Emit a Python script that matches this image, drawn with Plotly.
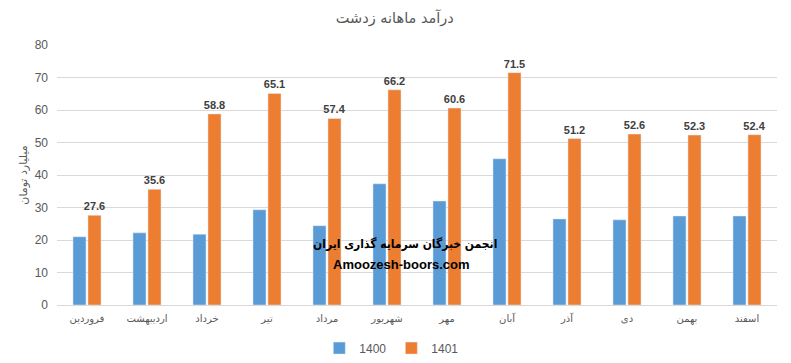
import plotly.graph_objects as go

months = ["فروردین", "اردیبهشت", "خرداد", "تیر", "مرداد", "شهریور",
          "مهر", "آبان", "آذر", "دی", "بهمن", "اسفند"]
v1400 = [21.0, 22.2, 21.8, 29.3, 24.4, 37.3, 32.0, 45.0, 26.5, 26.2, 27.4, 27.4]
v1401 = [27.6, 35.6, 58.8, 65.1, 57.4, 66.2, 60.6, 71.5, 51.2, 52.6, 52.3, 52.4]
yticks = [0, 10, 20, 30, 40, 50, 60, 70, 80]

font_fa = "DejaVu Sans, Arial, sans-serif"

fig = go.Figure()
fig.add_trace(go.Bar(x=months, y=v1400, name="1400", marker_color="#5b9bd5"))
fig.add_trace(go.Bar(x=months, y=v1401, name="1401", marker_color="#ed7d31",
                     text=[f"{v:.1f}" for v in v1401], textposition="outside",
                     textfont=dict(family="Arial, Liberation Sans", size=11, color="#404040",
                                   weight="bold"),
                     cliponaxis=False))

# page body has an 8px margin; compensate so plot area spans x 57..777, y 45..305
fig.update_layout(
    width=783, height=355,
    margin=dict(l=49, r=14, t=37, b=58, autoexpand=False),
    paper_bgcolor="white", plot_bgcolor="white",
    barmode="group", bargap=0.5, bargroupgap=0.13,
    title=dict(text="درآمد ماهانه زدشت", x=0.494, xanchor="center", y=0.972, yanchor="middle",
               font=dict(family=font_fa, size=14.5, color="#595959")),
    legend=dict(orientation="h", x=0.465, xanchor="center", y=-0.11, yanchor="top",
                font=dict(family="Arial, Liberation Sans", size=12, color="#595959"),
                itemwidth=30, traceorder="normal"),
    showlegend=True,
    uniformtext=dict(mode="show", minsize=11),
)
fig.update_xaxes(showgrid=False, showline=True, linecolor="#d9d9d9", linewidth=1,
                 automargin=False, ticklabelstandoff=4,
                 tickfont=dict(family=font_fa, size=10, color="#595959"), ticks="")
fig.update_yaxes(range=[0, 80], tickvals=yticks, showgrid=True, gridcolor="#d9d9d9",
                 zeroline=False, showline=False, ticks="", automargin=False,
                 ticklabelstandoff=8,
                 tickfont=dict(family="Arial, Liberation Sans", size=12, color="#595959"),
                 title=dict(text="میلیارد تومان", standoff=4,
                            font=dict(family=font_fa, size=11, color="#595959")))

fig.add_annotation(x=0.483, y=0.2, xref="paper", yref="paper",
                   text="<b>انجمن خبرگان سرمایه گذاری ایران</b>",
                   showarrow=False,
                   font=dict(family="DejaVu Sans Condensed, DejaVu Sans", size=12, color="black"))
fig.add_annotation(x=0.479, y=0.12, xref="paper", yref="paper",
                   text="<b>Amoozesh-boors.com</b>",
                   showarrow=False, font=dict(family="Arial, Liberation Sans", size=13, color="black"))

fig.write_html("out.html")
